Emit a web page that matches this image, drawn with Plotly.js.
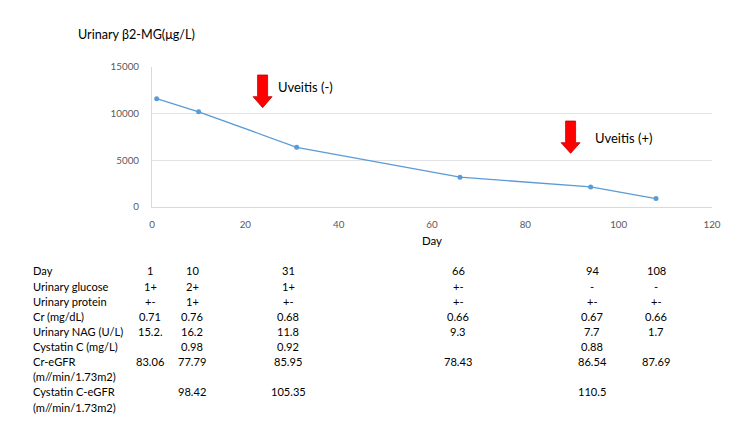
<!DOCTYPE html>
<html>
<head>
<meta charset="utf-8">
<script src="https://cdn.plot.ly/plotly-3.0.1.min.js"></script>
<style>html,body{margin:0;padding:0;background:#fff;}#chart{width:750px;height:422px;}</style>
</head>
<body>
<div id="chart"></div>
<script>
// ---- data ----
const days = [1, 10, 31, 66, 94, 108];
const b2mg = [11600, 10200, 6400, 3200, 2150, 900];

const eventDays = [23.7, 89.7];
const eventTipValues = [10640, 5750];
const eventHeadValues = [11820, 6890];
const eventTopValues = [14140, 9210];
const eventLabels = ['Uveitis (-)', 'Uveitis (+)'];
const eventLabelDays = [26.5, 94.6];
const eventLabelValues = [12890, 7425];

const rowLabels = ['Day', 'Urinary glucose', 'Urinary protein', 'Cr (mg/dL)', 'Urinary NAG (U/L)',
  'Cystatin C (mg/L)', 'Cr-eGFR', '(m//min/1.73m2)', 'Cystatin C-eGFR', '(m//min/1.73m2)'];
const tableDay      = ['1', '10', '31', '66', '94', '108'];
const tableGlucose  = ['1+', '2+', '1+', '+-', '-', '-'];
const tableProtein  = ['+-', '1+', '+-', '+-', '+-', '+-'];
const tableCr       = ['0.71', '0.76', '0.68', '0.66', '0.67', '0.66'];
const tableNAG      = ['15.2.', '16.2', '11.8', '9.3', '7.7', '1.7'];
const tableCysC     = ['', '0.98', '0.92', '', '0.88', ''];
const tableCrEGFR   = ['83.06', '77.79', '85.95', '78.43', '86.54', '87.69'];
const tableCysEGFR  = ['', '98.42', '105.35', '', '110.5', ''];

// ---- layout geometry (pixels) ----
const L = 151.7, R = 712, T = 67, B = 207;
const colX = [150, 192, 288, 458, 592, 656];
const labelX = 31.7;
const rowY = [270.7, 286, 301.3, 316.3, 331.3, 346.3, 361.3, 376.3, 391.7, 407];
const px2paperX = p => (p - L) / (R - L);
const px2paperY = p => (B - p) / (B - T);

const FONT = 'Lato, "Noto Sans", sans-serif';

const trace = {
  x: days, y: b2mg, type: 'scatter', mode: 'lines+markers',
  line: {color: '#5b9bd5', width: 1.3},
  marker: {color: '#5b9bd5', size: 5},
  hoverinfo: 'x+y'
};

const shapes = eventDays.map((d, i) => ({
  type: 'path', xref: 'x', yref: 'y', xsizemode: 'pixel', xanchor: d,
  path: `M -5 ${eventTopValues[i]} L 5 ${eventTopValues[i]} L 5 ${eventHeadValues[i]} L 9.5 ${eventHeadValues[i]} L 0 ${eventTipValues[i]} L -9.5 ${eventHeadValues[i]} L -5 ${eventHeadValues[i]} Z`,
  fillcolor: '#ff0000', line: {color: '#c00000', width: 0.8}
}));

const annotations = [];
eventLabels.forEach((t, i) => annotations.push({
  xref: 'x', yref: 'y', x: eventLabelDays[i], y: eventLabelValues[i], text: t,
  showarrow: false, xanchor: 'left', yanchor: 'middle', font: {family: FONT, size: 13, color: '#000'}
}));
annotations.push({
  xref: 'paper', yref: 'paper', x: px2paperX(76), y: px2paperY(35), text: 'Urinary β2-MG(μg/L)',
  showarrow: false, xanchor: 'left', yanchor: 'middle', font: {family: FONT, size: 12.6, color: '#000'}
});
rowLabels.forEach((t, r) => annotations.push({
  xref: 'paper', yref: 'paper', x: px2paperX(labelX - 1.5), y: px2paperY(rowY[r]), text: t,
  showarrow: false, xanchor: 'left', yanchor: 'middle', font: {family: FONT, size: 11.1, color: '#000'}
}));
const tableRows = [tableDay, tableGlucose, tableProtein, tableCr, tableNAG, tableCysC, tableCrEGFR, null, tableCysEGFR, null];
tableRows.forEach((row, r) => {
  if (!row) return;
  row.forEach((v, c) => {
    if (!v) return;
    annotations.push({
      xref: 'paper', yref: 'paper', x: px2paperX(colX[c]), y: px2paperY(rowY[r]), text: v,
      showarrow: false, xanchor: 'center', yanchor: 'middle', font: {family: FONT, size: 11.1, color: '#000'}
    });
  });
});

const layout = {
  width: 750, height: 422,
  margin: {l: L, r: 750 - R, t: T, b: 422 - B, pad: 0},
  paper_bgcolor: '#fff', plot_bgcolor: '#fff',
  showlegend: false,
  xaxis: {
    range: [0, 120], dtick: 20, tick0: 0, showgrid: false, zeroline: false,
    showline: true, linecolor: '#d9d9d9', linewidth: 1, ticks: '', ticklabelstandoff: 8,
    tickfont: {family: FONT, size: 9.8, color: '#595959'},
    title: {text: 'Day', font: {family: FONT, size: 11.5, color: '#000'}, standoff: 8}
  },
  yaxis: {
    range: [0, 15000], dtick: 5000, tick0: 0, tickformat: 'd', showgrid: true, gridcolor: '#e3e3e3', zeroline: false,
    showline: true, linecolor: '#d9d9d9', linewidth: 1, ticks: '', ticklabelstandoff: 10,
    tickfont: {family: FONT, size: 9.8, color: '#595959'}
  },
  shapes: shapes,
  annotations: annotations
};

Plotly.newPlot('chart', [trace], layout, {displayModeBar: false, staticPlot: true});
</script>
</body>
</html>
